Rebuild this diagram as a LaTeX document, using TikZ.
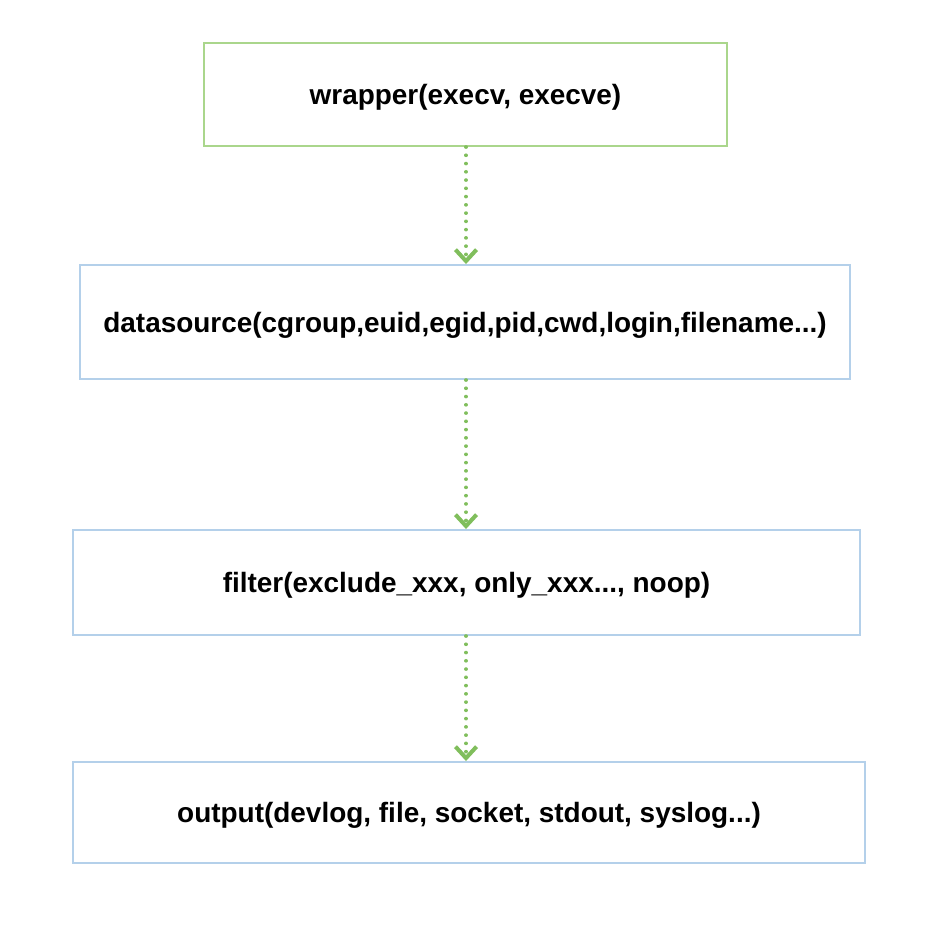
\documentclass[tikz,border=0pt]{standalone}
\usepackage{fontspec}
\setmainfont{Liberation Sans}
\usepackage{xcolor}
\usetikzlibrary{arrows.meta}

\definecolor{boxgreen}{RGB}{170,214,140}
\definecolor{boxblue}{RGB}{180,208,234}
\definecolor{arrowgreen}{RGB}{128,190,92}

\tikzset{
  stagebox/.style={draw, line width=1.1pt, fill=white, inner sep=0pt,
    text depth=0pt, font=\fontsize{15.9}{18}\selectfont\bfseries},
  flowarrow/.style={arrowgreen, line width=2pt, line cap=round,
    dash pattern=on 0.1pt off 4.6pt,
    -{Straight Barb[length=6.5pt,width=12pt,line width=2.3pt]}}
}

\begin{document}
\begin{tikzpicture}[x=0.02cm, y=-0.02cm]
\useasboundingbox (0,0) rectangle (950,928);
% stages
\node[stagebox, draw=boxgreen, minimum width=523*0.02cm, minimum height=103*0.02cm]
  (wrapper) at (465.5,94.5) {wrapper(execv, execve)};
\node[stagebox, draw=boxblue, minimum width=770*0.02cm, minimum height=114*0.02cm]
  (datasource) at (465,322) {datasource(cgroup,euid,egid,pid,cwd,login,filename...)};
\node[stagebox, draw=boxblue, minimum width=787*0.02cm, minimum height=105*0.02cm]
  (filter) at (466.5,582.5) {filter(exclude\_xxx, only\_xxx..., noop)};
\node[stagebox, draw=boxblue, minimum width=792*0.02cm, minimum height=101*0.02cm]
  (output) at (469,812.5) {output(devlog, file, socket, stdout, syslog...)};
% connectors
\draw[flowarrow] (wrapper.south -| 466,0) -- (datasource.north -| 466,0);
\draw[flowarrow] (datasource.south -| 466,0) -- (filter.north -| 466,0);
\draw[flowarrow] (filter.south -| 466,0) -- (output.north -| 466,0);
\end{tikzpicture}
\end{document}
